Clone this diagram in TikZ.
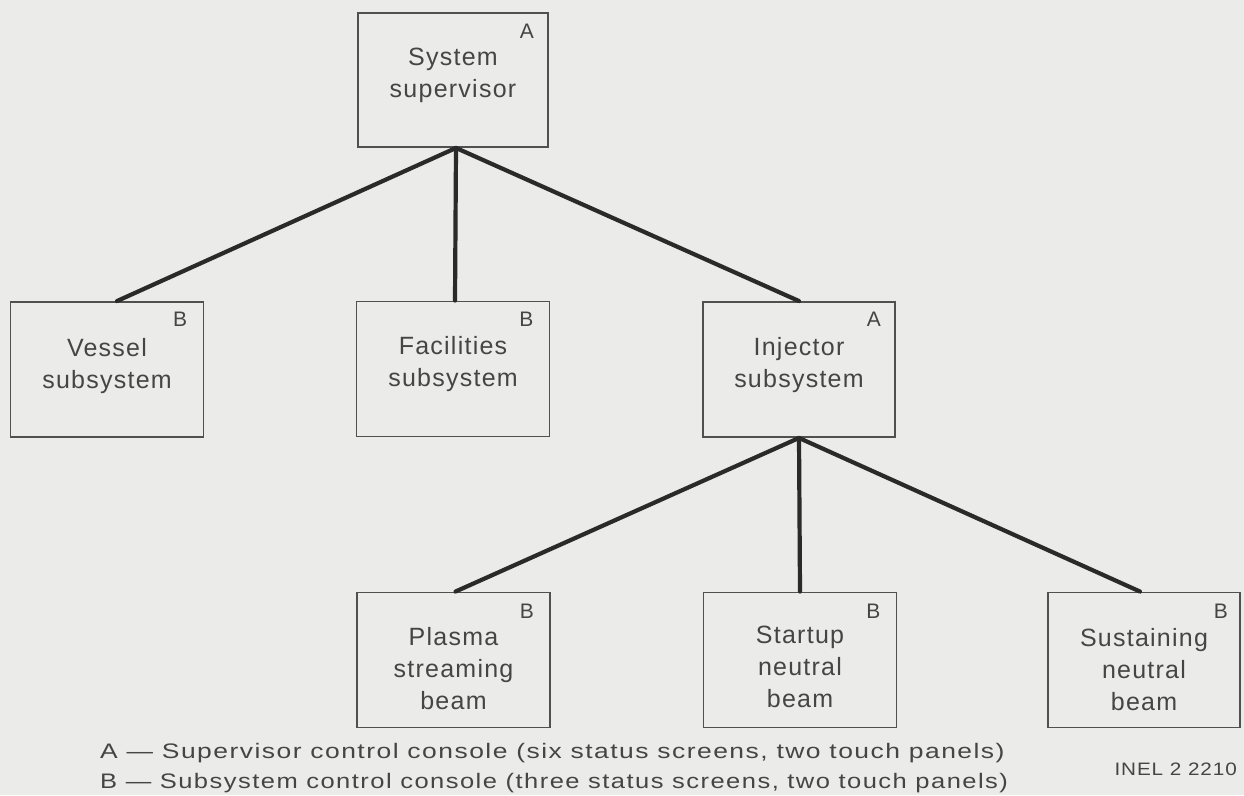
\documentclass[tikz,border=0pt]{standalone}
\usepackage{fontspec}
\setmainfont{Liberation Sans}
\newfontfamily\boxfont{Liberation Sans}[LetterSpace=5]
\newfontfamily\legfont{Liberation Sans}[FakeStretch=1.26,LetterSpace=7]
\newfontfamily\legfontb{Liberation Sans}[FakeStretch=1.215,LetterSpace=7]
\newfontfamily\tagfont{Liberation Sans}[FakeStretch=1.15,LetterSpace=5]
\usetikzlibrary{calc}
\definecolor{paper}{HTML}{EBEBE9}
\definecolor{ink}{HTML}{454545}
\definecolor{wire}{HTML}{2A2A2A}
\definecolor{frame}{HTML}{505050}
\tikzset{
  unit/.style={draw=frame, line width=1.9pt, fill=paper, minimum width=193pt,
    minimum height=135pt, inner sep=0pt, align=center, text=ink,
    font=\boxfont\fontsize{25}{32}\selectfont},
  corner/.style={anchor=north east, inner sep=0pt, text=ink,
    font=\boxfont\fontsize{21}{21}\selectfont},
  link/.style={draw=wire, line width=4.2pt, line cap=round},
  legend/.style={anchor=base west, inner sep=0pt, text=ink,
    font=\legfont\fontsize{21}{21}\selectfont},
}
\begin{document}
\begin{tikzpicture}[x=1pt,y=-1pt]
  \fill[paper] (0,0) rectangle (1244,795);
  \useasboundingbox (0,0) rectangle (1244,795);

  % top level
  \node[unit, minimum width=190pt, minimum height=134pt] (sup) at (453,80) {System\\supervisor\\[-18pt]};
  \node[corner] (supk) at ($(sup.north east)+(-15,12)$) {A};

  % subsystems
  \node[unit] (ves) at (107,369.5) {Vessel\\subsystem\\[-20pt]};
  \node[corner] (vesk) at ($(ves.north east)+(-17,11)$) {B};
  \node[unit] (fac) at (453,369) {Facilities\\subsystem\\[-16pt]};
  \node[corner] (fack) at ($(fac.north east)+(-17,11)$) {B};
  \node[unit, minimum width=192pt] (inj) at (799,369.5) {Injector\\subsystem\\[-18pt]};
  \node[corner] (injk) at ($(inj.north east)+(-15,11)$) {A};

  % injector beams
  \node[unit] (pla) at (453.5,660) {Plasma\\streaming\\beam\\[-48pt]};
  \node[corner] (plak) at ($(pla.north east)+(-17,12)$) {B};
  \node[unit] (sta) at (800,660) {Startup\\neutral\\beam\\[-46pt]};
  \node[corner] (stak) at ($(sta.north east)+(-17,12)$) {B};
  \node[unit, minimum width=192pt] (sus) at (1144,660) {Sustaining\\neutral\\beam\\[-50pt]};
  \node[corner] (susk) at ($(sus.north east)+(-13,12)$) {B};

  % tree connectors
  \coordinate (hubA) at ($(sup.south)+(3,0)$);
  \coordinate (hubB) at (inj.south);
  \draw[link] (hubA) -- ($(ves.north)+(10,0)$);
  \draw[link] (hubA) -- ($(fac.north)+(2,0)$);
  \draw[link] (hubA) -- (inj.north);
  \draw[link] (hubB) -- ($(pla.north)+(2,0)$);
  \draw[link] (hubB) -- (sta.north);
  \draw[link] (hubB) -- ($(sus.north)+(-4,0)$);

  % key
  \node[legend] (keyA) at (100,758) {A — Supervisor control console (six status screens, two touch panels)};
  \node[legend, font=\legfontb\fontsize{21}{21}\selectfont] (keyB) at (100,788) {B — Subsystem control console (three status screens, two touch panels)};
  \node[anchor=base east, inner sep=0pt, text=ink, font=\tagfont\fontsize{18}{18}\selectfont] (code) at (1237,775) {INEL 2 2210};
\end{tikzpicture}
\end{document}
